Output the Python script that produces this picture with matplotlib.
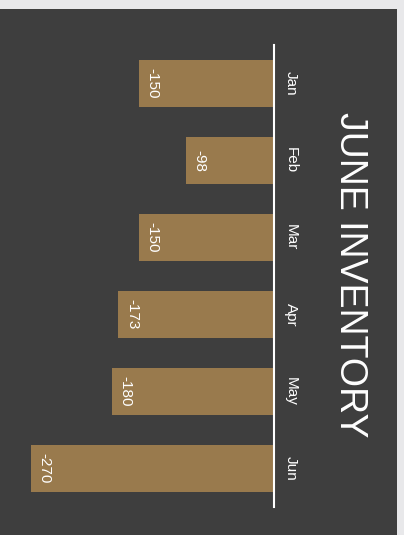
import matplotlib.pyplot as plt
from matplotlib.patches import Rectangle

months = ["Jan", "Feb", "Mar", "Apr", "May", "Jun"]
values = [-150, -98, -150, -173, -180, -270]

W, H = 404, 535
fig = plt.figure(figsize=(W / 100, H / 100), dpi=100)
fig.patch.set_facecolor("#e8e8ea")
plt.rcParams['font.family'] = ['Liberation Sans', 'DejaVu Sans']

# dark card behind the chart
fig.patches.append(Rectangle((0, 0), 397 / W, 1 - 9 / H, transform=fig.transFigure,
                             facecolor="#3e3e3e", edgecolor="none", zorder=-1))

ax = fig.add_axes([20 / W, (H - 507) / H, 254 / W, 462 / H])
ax.set_facecolor("none")

pos = list(range(len(months)))
ax.barh(pos, values, height=0.61, color="#997a4d")
ax.set_xlim(-282, 0)
ax.set_ylim(5.5, -0.5)

for p, v in zip(pos, values):
    ax.annotate(str(v), (v, p), xytext=(5, 0), textcoords="offset points",
                rotation=-90, ha="left", va="center", color="white", fontsize=11)

ax.yaxis.tick_right()
ax.set_yticks(pos)
ax.set_yticklabels(months, rotation=-90, va="center", ha="left", color="white", fontsize=11)
ax.tick_params(axis="y", length=0, pad=7)
ax.set_xticks([])
for s in ["left", "top", "bottom"]:
    ax.spines[s].set_visible(False)
ax.spines["right"].set_color("white")
ax.spines["right"].set_linewidth(1.5)

fig.text(350 / W, 1 - 275 / H, "JUNE INVENTORY", rotation=-90, ha="center", va="center",
         color="white", fontsize=27)

fig.savefig("out.png", dpi=100, facecolor=fig.get_facecolor())
